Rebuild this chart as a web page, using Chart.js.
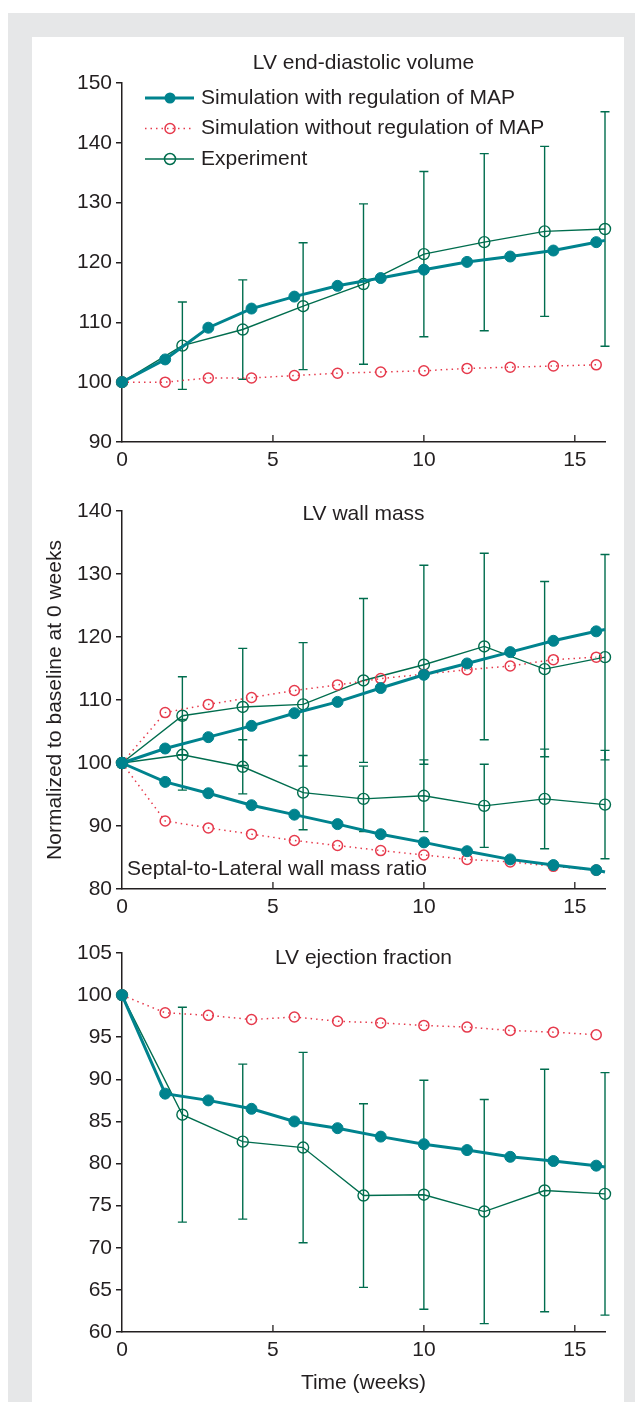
<!DOCTYPE html>
<html>
<head>
<meta charset="utf-8">
<script src="https://cdn.jsdelivr.net/npm/chart.js@4.4.1/dist/chart.umd.min.js"></script>
<style>
    html, body { margin: 0; padding: 0; background: #fff; }
    #page { position: relative; width: 635px; height: 1402px; overflow: hidden; background: #fff; }
    #frame { position: absolute; left: 8px; top: 13px; width: 627px; height: 1389px; background: #e6e7e8; }
    #inner { position: absolute; left: 32px; top: 37px; width: 592px; height: 1365px; background: #fff; }
    canvas { position: absolute; left: 0; }
</style>
</head>
<body>
<div id="page">
    <div id="frame"></div>
    <div id="inner"></div>
    <canvas id="edvChart" width="635" height="440" style="top:40px;width:635px;height:440px"></canvas>
    <canvas id="massChart" width="635" height="445" style="top:480px;width:635px;height:445px"></canvas>
    <canvas id="efChart" width="635" height="477" style="top:925px;width:635px;height:477px"></canvas>
</div>
<script>
// Time axis (weeks): simulation every 10 days, experiment every 2 weeks
const simWeeks = [0, 1.43, 2.86, 4.29, 5.71, 7.14, 8.57, 10, 11.43, 12.86, 14.29, 15.71, 16];
const expWeeks = [0, 2, 4, 6, 8, 10, 12, 14, 16];
const xTicks = [0, 5, 10, 15];

const legendLabels = ['Simulation with regulation of MAP', 'Simulation without regulation of MAP', 'Experiment'];

// LV end-diastolic volume
const edvWithMap = [100, 103.8, 109.1, 112.3, 114.3, 116.1, 117.4, 118.8, 120.1, 121.0, 122.0, 123.4, 123.7];
const edvWithoutMap = [100, 100.0, 100.7, 100.7, 101.1, 101.5, 101.7, 101.9, 102.3, 102.5, 102.7, 102.9];
const edvExp = [100, 106.1, 108.8, 112.7, 116.4, 121.4, 123.4, 125.2, 125.6];
const edvExpSd = [0, 7.3, 8.3, 10.6, 13.4, 13.8, 14.8, 14.2, 19.6];
const edvTicks = [90, 100, 110, 120, 130, 140, 150];

// LV wall mass
const massWithMap = [100, 102.3, 104.1, 105.9, 107.9, 109.7, 111.9, 114.0, 115.8, 117.6, 119.4, 120.9, 121.2];
const massWithoutMap = [100, 108.0, 109.3, 110.4, 111.5, 112.4, 113.4, 114.1, 114.8, 115.4, 116.4, 116.8];
const massExp = [100, 107.5, 108.9, 109.3, 113.1, 115.6, 118.5, 114.9, 116.8];
const massExpSd = [0, 6.2, 9.3, 9.8, 13.0, 15.8, 14.8, 13.9, 16.3];

// Septal-to-Lateral wall mass ratio
const ratioWithMap = [100, 97.0, 95.2, 93.3, 91.8, 90.3, 88.7, 87.4, 86.0, 84.7, 83.8, 83.0, 82.7];
const ratioWithoutMap = [100, 90.8, 89.7, 88.7, 87.7, 86.9, 86.1, 85.4, 84.7, 84.3, 83.6, 83.0];
const ratioExp = [100, 101.3, 99.4, 95.3, 94.3, 94.8, 93.2, 94.3, 93.4];
const ratioExpSd = [0, 5.6, 4.3, 5.9, 5.2, 5.7, 6.6, 7.9, 8.6];
const massTicks = [80, 90, 100, 110, 120, 130, 140];

// LV ejection fraction
const efWithMap = [100, 88.3, 87.5, 86.5, 85.0, 84.2, 83.2, 82.3, 81.6, 80.8, 80.3, 79.75, 79.6];
const efWithoutMap = [100, 97.9, 97.6, 97.1, 97.4, 96.9, 96.7, 96.4, 96.2, 95.8, 95.6, 95.3];
const efExp = [100, 85.8, 82.6, 81.9, 76.2, 76.3, 74.3, 76.8, 76.4];
const efExpSd = [0, 12.75, 9.2, 11.3, 10.9, 13.6, 13.3, 14.4, 14.4];
const efTicks = [60, 65, 70, 75, 80, 85, 90, 95, 100, 105];

const FONT = "'Liberation Sans', Arial, Helvetica, sans-serif";
const teal = '#00838e';
const green = '#006d4e';
const red = '#e63a4c';
const ink = '#231f20';

function pts(weeks, values) {
    return values.map((v, i) => ({ x: weeks[i], y: v }));
}

// Simulation with regulation: thick teal, filled markers (no marker at the line end)
function withMapSet(values) {
    return {
        data: pts(simWeeks, values),
        borderColor: teal,
        borderWidth: 3,
        pointRadius: values.map((v, i) => simWeeks[i] === 16 ? 0 : 5.5),
        pointBackgroundColor: teal,
        pointBorderColor: teal,
        pointBorderWidth: 1,
        clip: false
    };
}

// Simulation without regulation: red dotted, open markers
function withoutMapSet(values) {
    return {
        data: pts(simWeeks, values),
        borderColor: red,
        borderWidth: 1.5,
        borderDash: [1.5, 4],
        pointRadius: 5,
        pointBackgroundColor: 'rgba(0,0,0,0)',
        pointBorderColor: red,
        pointBorderWidth: 1.5,
        clip: false
    };
}

// Experiment: thin green line, open markers
function expSet(values) {
    return {
        data: pts(expWeeks, values),
        borderColor: green,
        borderWidth: 1.4,
        pointRadius: 5.5,
        pointBackgroundColor: 'rgba(0,0,0,0)',
        pointBorderColor: green,
        pointBorderWidth: 1.4,
        clip: false
    };
}

function makeScales(yMin, yMax, yTicks, xHeight) {
    return {
        x: {
            type: 'linear', min: 0, max: 16,
            afterFit(s) { s.height = xHeight; },
            afterBuildTicks(s) { s.ticks = xTicks.map(v => ({ value: v })); },
            grid: { display: false, drawTicks: false },
            border: { display: true, color: ink, width: 1.5 },
            ticks: { color: ink, font: { family: FONT, size: 21 }, padding: 6, maxRotation: 0, autoSkip: false }
        },
        y: {
            type: 'linear', min: yMin, max: yMax,
            afterFit(s) { s.width = 122; },
            afterBuildTicks(s) { s.ticks = yTicks.map(v => ({ value: v })); },
            grid: { display: true, drawOnChartArea: false, drawTicks: true, tickLength: 6, color: ink, lineWidth: 1.5 },
            border: { display: true, color: ink, width: 1.5 },
            ticks: { color: ink, font: { family: FONT, size: 21 }, padding: 4, autoSkip: false }
        }
    };
}

// Error bars (mean ± SD) for the experiment
function errorBars(groups) {
    return {
        id: 'errorBars',
        beforeDatasetsDraw(chart) {
            const { ctx, scales: { x, y } } = chart;
            ctx.save();
            ctx.strokeStyle = green;
            ctx.lineWidth = 1.4;
            groups.forEach(g => {
                g.mean.forEach((m, i) => {
                    const sd = g.sd[i];
                    if (!sd) return;
                    const px = x.getPixelForValue(expWeeks[i]);
                    const top = y.getPixelForValue(m + sd);
                    const bot = y.getPixelForValue(m - sd);
                    ctx.beginPath();
                    ctx.moveTo(px, top); ctx.lineTo(px, bot);
                    ctx.moveTo(px - 4.5, top); ctx.lineTo(px + 4.5, top);
                    ctx.moveTo(px - 4.5, bot); ctx.lineTo(px + 4.5, bot);
                    ctx.stroke();
                });
            });
            ctx.restore();
        }
    };
}

// Inward x ticks + free text
function decor(texts) {
    return {
        id: 'decor',
        afterDraw(chart) {
            const { ctx, chartArea, scales: { x } } = chart;
            ctx.save();
            ctx.strokeStyle = ink;
            ctx.lineWidth = 1.3;
            xTicks.forEach(v => {
                if (v === 0) return;
                const px = x.getPixelForValue(v);
                ctx.beginPath();
                ctx.moveTo(px, chartArea.bottom);
                ctx.lineTo(px, chartArea.bottom - 7);
                ctx.stroke();
            });
            ctx.fillStyle = ink;
            ctx.font = '21px ' + FONT;
            ctx.textBaseline = 'middle';
            const mid = (chartArea.left + chartArea.right) / 2;
            texts.forEach(t => {
                ctx.save();
                ctx.translate(t.x === 'mid' ? mid : t.x, t.y);
                if (t.rot) ctx.rotate(t.rot);
                ctx.textAlign = t.align || 'center';
                ctx.fillText(t.text, 0, 0);
                ctx.restore();
            });
            ctx.restore();
        }
    };
}

const mapLegend = {
    id: 'mapLegend',
    afterDraw(chart) {
        const ctx = chart.ctx;
        const rows = [
            { color: teal, width: 3, dash: [], fill: true, r: 5.5 },
            { color: red, width: 1.5, dash: [1.5, 4], fill: false, r: 5 },
            { color: green, width: 1.4, dash: [], fill: false, r: 5.5 }
        ];
        ctx.save();
        rows.forEach((row, i) => {
            const yy = 58 + i * 30.5;
            ctx.strokeStyle = row.color;
            ctx.lineWidth = row.width;
            ctx.setLineDash(row.dash);
            ctx.beginPath();
            ctx.moveTo(145, yy); ctx.lineTo(194, yy);
            ctx.stroke();
            ctx.setLineDash([]);
            ctx.beginPath();
            ctx.arc(170, yy, row.r, 0, Math.PI * 2);
            if (row.fill) { ctx.fillStyle = row.color; ctx.fill(); }
            else { ctx.lineWidth = 1.5; ctx.stroke(); }
            ctx.fillStyle = ink;
            ctx.font = '21px ' + FONT;
            ctx.textAlign = 'left';
            ctx.textBaseline = 'middle';
            ctx.fillText(legendLabels[i], 201, yy);
        });
        ctx.restore();
    }
};

function baseOptions(padTop, scales) {
    return {
        responsive: false,
        animation: false,
        events: [],
        elements: { line: { tension: 0 } },
        layout: { padding: { left: 0, right: 30, top: padTop, bottom: 0 } },
        plugins: { legend: { display: false }, tooltip: { enabled: false } },
        scales: scales
    };
}

window.onload = function() {
    // LV end-diastolic volume
    new Chart(document.getElementById('edvChart').getContext('2d'), {
        type: 'line',
        data: { datasets: [withMapSet(edvWithMap), withoutMapSet(edvWithoutMap), expSet(edvExp)] },
        options: baseOptions(43, makeScales(90, 150, edvTicks, 38)),
        plugins: [
            errorBars([{ mean: edvExp, sd: edvExpSd }]),
            decor([{ text: 'LV end-diastolic volume', x: 'mid', y: 23 }]),
            mapLegend
        ]
    });

    // LV wall mass + septal-to-lateral ratio
    new Chart(document.getElementById('massChart').getContext('2d'), {
        type: 'line',
        data: {
            datasets: [
                withMapSet(massWithMap), withMapSet(ratioWithMap),
                withoutMapSet(massWithoutMap), withoutMapSet(ratioWithoutMap),
                expSet(massExp), expSet(ratioExp)
            ]
        },
        options: baseOptions(31, makeScales(80, 140, massTicks, 36)),
        plugins: [
            errorBars([{ mean: massExp, sd: massExpSd }, { mean: ratioExp, sd: ratioExpSd }]),
            decor([
                { text: 'LV wall mass', x: 'mid', y: 34 },
                { text: 'Septal-to-Lateral wall mass ratio', x: 127, y: 389, align: 'left' },
                { text: 'Normalized to baseline at 0 weeks', x: 55, y: 220, rot: -Math.PI / 2 }
            ])
        ]
    });

    // LV ejection fraction
    new Chart(document.getElementById('efChart').getContext('2d'), {
        type: 'line',
        data: { datasets: [withMapSet(efWithMap), withoutMapSet(efWithoutMap), expSet(efExp)] },
        options: baseOptions(28, makeScales(60, 105, efTicks, 70)),
        plugins: [
            errorBars([{ mean: efExp, sd: efExpSd }]),
            decor([
                { text: 'LV ejection fraction', x: 'mid', y: 33 },
                { text: 'Time (weeks)', x: 'mid', y: 458 }
            ])
        ]
    });
};
</script>
</body>
</html>
